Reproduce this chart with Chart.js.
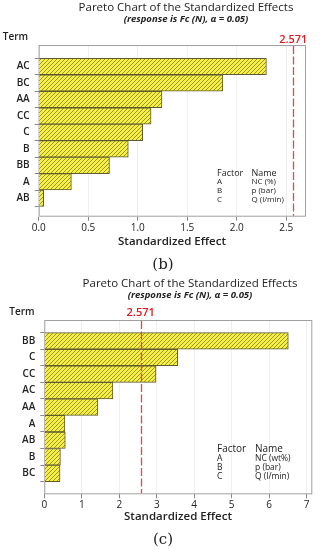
<!DOCTYPE html>
<html>
<head>
<meta charset="utf-8">
<script src="https://cdn.jsdelivr.net/npm/chart.js@4.4.0/dist/chart.umd.min.js"></script>
<style>
    html, body { margin: 0; padding: 0; background: #fff; }
    body { width: 322px; height: 550px; position: relative; overflow: hidden; }
    .box { position: absolute; left: 0; width: 322px; }
    .cap { position: absolute; width: 40px; text-align: center; font-family: "DejaVu Serif", "Liberation Serif", serif; font-size: 15px; color: #222; }
</style>
</head>
<body>
<div class="box" style="top:0;height:270px"><canvas id="chartB" width="322" height="270"></canvas></div>
<div class="box" style="top:270px;height:280px"><canvas id="chartC" width="322" height="280"></canvas></div>
<div class="cap" style="left:143px;top:255px">(b)</div>
<div class="cap" style="left:143px;top:530px">(c)</div>
<script>
// Chart (b) data
const termsB = ['AC', 'BC', 'AA', 'CC', 'C', 'B', 'BB', 'A', 'AB'];
const effectsB = [2.30, 1.86, 1.245, 1.135, 1.05, 0.905, 0.715, 0.33, 0.05];
const namesB = ['NC (%)', 'p (bar)', 'Q (l/min)'];

// Chart (c) data
const termsC = ['BB', 'C', 'CC', 'AC', 'AA', 'A', 'AB', 'B', 'BC'];
const effectsC = [6.51, 3.56, 2.98, 1.83, 1.43, 0.55, 0.56, 0.43, 0.42];
const namesC = ['NC (wt%)', 'p (bar)', 'Q (l/min)'];

const factors = ['A', 'B', 'C'];
const critical = 2.571;
const titleText = 'Pareto Chart of the Standardized Effects';
const subtitleText = '(response is Fc (N), \u03b1 = 0.05)';

const FONT = '"Open Sans", "Noto Sans", sans-serif';
const TEXT = '#222222';

// yellow bars with /// hatching
function hatchPattern() {
    const c = document.createElement('canvas');
    c.width = 4; c.height = 4;
    const g = c.getContext('2d');
    g.fillStyle = '#f6f042';
    g.fillRect(0, 0, 4, 4);
    g.strokeStyle = '#9a9226';
    g.lineWidth = 1;
    g.beginPath();
    g.moveTo(-1, 5); g.lineTo(5, -1);
    g.moveTo(-1, 1); g.lineTo(1, -1);
    g.moveTo(3, 5); g.lineTo(5, 3);
    g.stroke();
    return g.createPattern(c, 'repeat');
}

/**
 * Draw a pareto chart of standardized effects
 */
function createParetoChart(canvasId, terms, effects, names, o) {
    const canvas = document.getElementById(canvasId);

    // frame, reference line and texts
    const overlay = {
        id: 'overlay',
        beforeDatasetsDraw(chart) {
            const ctx = chart.ctx;
            const a = chart.chartArea;
            ctx.save();
            ctx.strokeStyle = '#a0a0a0';
            ctx.lineWidth = 1;
            ctx.strokeRect(a.left + 0.5, a.top + 0.5, a.right - a.left - 1, a.bottom - a.top - 1);
            ctx.restore();
        },
        afterDatasetsDraw(chart) {
            const ctx = chart.ctx;
            const a = chart.chartArea;
            const x = chart.scales.x.getPixelForValue(critical);
            ctx.save();
            ctx.strokeStyle = '#e2474c';
            ctx.lineWidth = 1.3;
            ctx.setLineDash([8, 2.5]);
            ctx.beginPath();
            ctx.moveTo(Math.round(x) + 0.5, a.top + 1);
            ctx.lineTo(Math.round(x) + 0.5, a.bottom - 1);
            ctx.stroke();
            ctx.setLineDash([]);

            ctx.textBaseline = 'middle';
            ctx.textAlign = 'center';
            ctx.fillStyle = '#e3161c';
            ctx.font = '600 11px ' + FONT;
            ctx.fillText(critical.toFixed(3), x, a.top - o.critDy);

            ctx.fillStyle = TEXT;
            ctx.font = '11.5px ' + FONT;
            ctx.fillText(titleText, o.titleX, o.titleY);
            ctx.font = 'italic 700 9.5px ' + FONT;
            ctx.fillText(subtitleText, o.titleX, o.titleY + 11.5);
            ctx.font = '600 10px ' + FONT;
            ctx.fillText('Term', o.termX, a.top - o.termDy);
            ctx.font = '600 11.5px ' + FONT;
            ctx.fillText('Standardized Effect', o.xTitleX, a.bottom + o.xTitleDy);

            // factor table
            ctx.textAlign = 'left';
            ctx.font = o.headFont + FONT;
            ctx.fillText('Factor', o.tabX, o.tabY);
            ctx.fillText('Name', o.nameX, o.tabY);
            ctx.font = o.rowFont + FONT;
            factors.forEach((f, i) => {
                ctx.fillText(f, o.tabX, o.tabY + o.rowH * (i + 1));
                ctx.fillText(names[i], o.nameX, o.tabY + o.rowH * (i + 1));
            });
            ctx.restore();
        }
    };

    new Chart(canvas, {
        type: 'bar',
        data: {
            datasets: [{
                data: effects.map((v, i) => ({ x: v, y: i })),
                backgroundColor: hatchPattern(),
                borderColor: '#5e5a32',
                borderWidth: 1,
                barPercentage: 1,
                categoryPercentage: 1
            }]
        },
        options: {
            indexAxis: 'y',
            responsive: false,
            animation: false,
            layout: {
                padding: { top: o.top, right: o.right, left: 0, bottom: o.bottom }
            },
            plugins: {
                legend: { display: false },
                tooltip: { enabled: false }
            },
            scales: {
                x: {
                    type: 'linear',
                    min: 0,
                    max: o.xMax,
                    afterFit: s => { s.height = 20; },
                    border: { display: false },
                    grid: { color: '#efefef', tickColor: '#888', tickLength: 4 },
                    ticks: {
                        stepSize: o.step,
                        includeBounds: false,
                        padding: 1,
                        color: TEXT,
                        font: { family: FONT, size: 10 },
                        callback: v => o.step < 1 ? v.toFixed(1) : String(v)
                    }
                },
                y: {
                    type: 'linear',
                    reverse: true,
                    min: o.yMin,
                    max: o.yMax,
                    afterFit: s => { s.width = o.yWidth; },
                    afterBuildTicks: s => { s.ticks = terms.map((t, i) => ({ value: i })); },
                    border: { display: false },
                    grid: { drawOnChartArea: false, tickColor: '#888', tickLength: 4 },
                    ticks: {
                        padding: 5,
                        color: TEXT,
                        font: { family: FONT, size: 10, weight: '600' },
                        callback: v => terms[v]
                    }
                }
            }
        },
        plugins: [overlay]
    });
}

createParetoChart('chartB', termsB, effectsB, namesB, {
    top: 45, right: 16, bottom: 33.3, yWidth: 38.7,
    yMin: -0.73, yMax: 8.54, xMax: 2.7, step: 0.5,
    titleX: 186, titleY: 7.5, termX: 15.5, termDy: 7.5, critDy: 5,
    xTitleX: 172, xTitleDy: 25,
    tabX: 217, nameX: 251.5, tabY: 173, rowH: 9,
    headFont: '9px ', rowFont: '8px '
});

createParetoChart('chartC', termsC, effectsC, namesC, {
    top: 50, right: 9.7, bottom: 35.7, yWidth: 44.3,
    yMin: -0.68, yMax: 8.68, xMax: 7.15, step: 1,
    titleX: 190, titleY: 14, termX: 22, termDy: 8.3, critDy: 6.7,
    xTitleX: 178, xTitleDy: 22.4,
    tabX: 217, nameX: 255, tabY: 179.3, rowH: 9,
    headFont: '10px ', rowFont: '8.5px '
});
</script>
</body>
</html>
